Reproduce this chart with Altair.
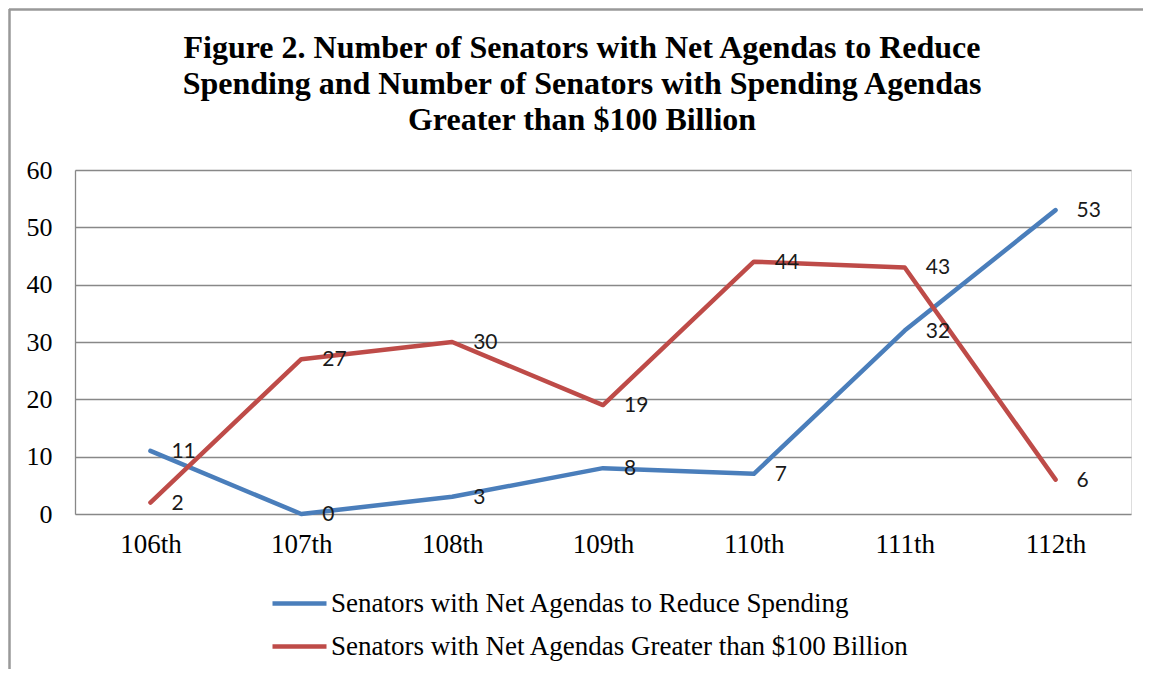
import altair as alt
import pandas as pd

congresses = ["106th", "107th", "108th", "109th", "110th", "111th", "112th"]
reduce_spending = [11, 0, 3, 8, 7, 32, 53]
over_100b = [2, 27, 30, 19, 44, 43, 6]
series_names = [
    "Senators with Net Agendas to Reduce Spending",
    "Senators with Net Agendas Greater than $100 Billion",
]
colors = ["#4A7EBB", "#BE4B48"]
title_lines = [
    "Figure 2. Number of Senators with Net Agendas to Reduce",
    "Spending and Number of Senators with Spending Agendas",
    "Greater than $100 Billion",
]

rows = []
for c, v in zip(congresses, reduce_spending):
    rows.append({"congress": c, "value": v, "series": series_names[0]})
for c, v in zip(congresses, over_100b):
    rows.append({"congress": c, "value": v, "series": series_names[1]})
df = pd.DataFrame(rows)

W, H = 1056, 344
PAD_L, PAD_T, PAD_R, PAD_B = 67, 162, 12, 155

x_enc = alt.X(
    "congress:N",
    sort=congresses,
    scale=alt.Scale(paddingInner=0, paddingOuter=0, align=0.5),
    axis=alt.Axis(
        title=None, labelAngle=0, labelFont="Liberation Serif", labelFontSize=27,
        labelColor="#000000", labelPadding=17, ticks=False, domain=False, grid=False,
    ),
)
y_enc = alt.Y(
    "value:Q",
    scale=alt.Scale(domain=[0, 60], nice=False),
    axis=alt.Axis(
        title=None, values=[0, 10, 20, 30, 40, 50, 60], labelFont="Liberation Serif",
        labelFontSize=26, labelColor="#000000", labelPadding=23, ticks=False,
        domain=True, domainColor="#888888", domainWidth=1.3,
        grid=True, gridColor="#888888", gridWidth=1.3,
    ),
)
color_enc = alt.Color(
    "series:N",
    sort=series_names,
    scale=alt.Scale(domain=series_names, range=colors),
    legend=alt.Legend(
        title=None, orient="none", legendX=195, legendY=404, direction="vertical",
        symbolType="stroke", symbolSize=2916, symbolStrokeWidth=4.5,
        labelFont="Liberation Serif", labelFontSize=27, labelColor="#000000",
        rowPadding=-12, labelOffset=2, labelLimit=900,
    ),
)

base = alt.Chart(df).encode(x=x_enc, y=y_enc, color=color_enc)

lines = base.mark_line(strokeWidth=4.5, strokeCap="round", strokeJoin="round")

labels = base.mark_text(
    align="left", baseline="middle", dx=21, dy=1, font="Lato", fontSize=21, color="#1a1a1a"
).encode(text="value:Q", color=alt.value("#1a1a1a"))

deco_df = pd.DataFrame({"a": [0]})
frame_top = alt.Chart(deco_df).mark_rule(
    color="#999999", strokeWidth=2.5, clip=False
).encode(
    x=alt.value(-PAD_L + 1), x2=alt.value(W + PAD_R), y=alt.value(-PAD_T + 1.5),
)
frame_left = alt.Chart(deco_df).mark_rule(
    color="#999999", strokeWidth=2.5, clip=False
).encode(
    x=alt.value(-PAD_L + 1.5), y=alt.value(-PAD_T + 1), y2=alt.value(H + PAD_B),
)

title = alt.Chart(deco_df).mark_text(
    font="Liberation Serif", fontSize=32, fontWeight="bold", color="#000000",
    align="center", baseline="middle", lineHeight=36,
).encode(
    x=alt.value(582 - 75), y=alt.value(-122), text=alt.value(title_lines),
)

chart = alt.layer(frame_top, frame_left, title, lines, labels).properties(
    width=W,
    height=H,
    autosize=alt.AutoSizeParams(type="none"),
    padding={"left": PAD_L, "top": PAD_T, "right": PAD_R, "bottom": PAD_B},
).configure_view(stroke=None).configure(background="white")

chart.save("out.html", embed_options={"renderer": "svg", "actions": False})
